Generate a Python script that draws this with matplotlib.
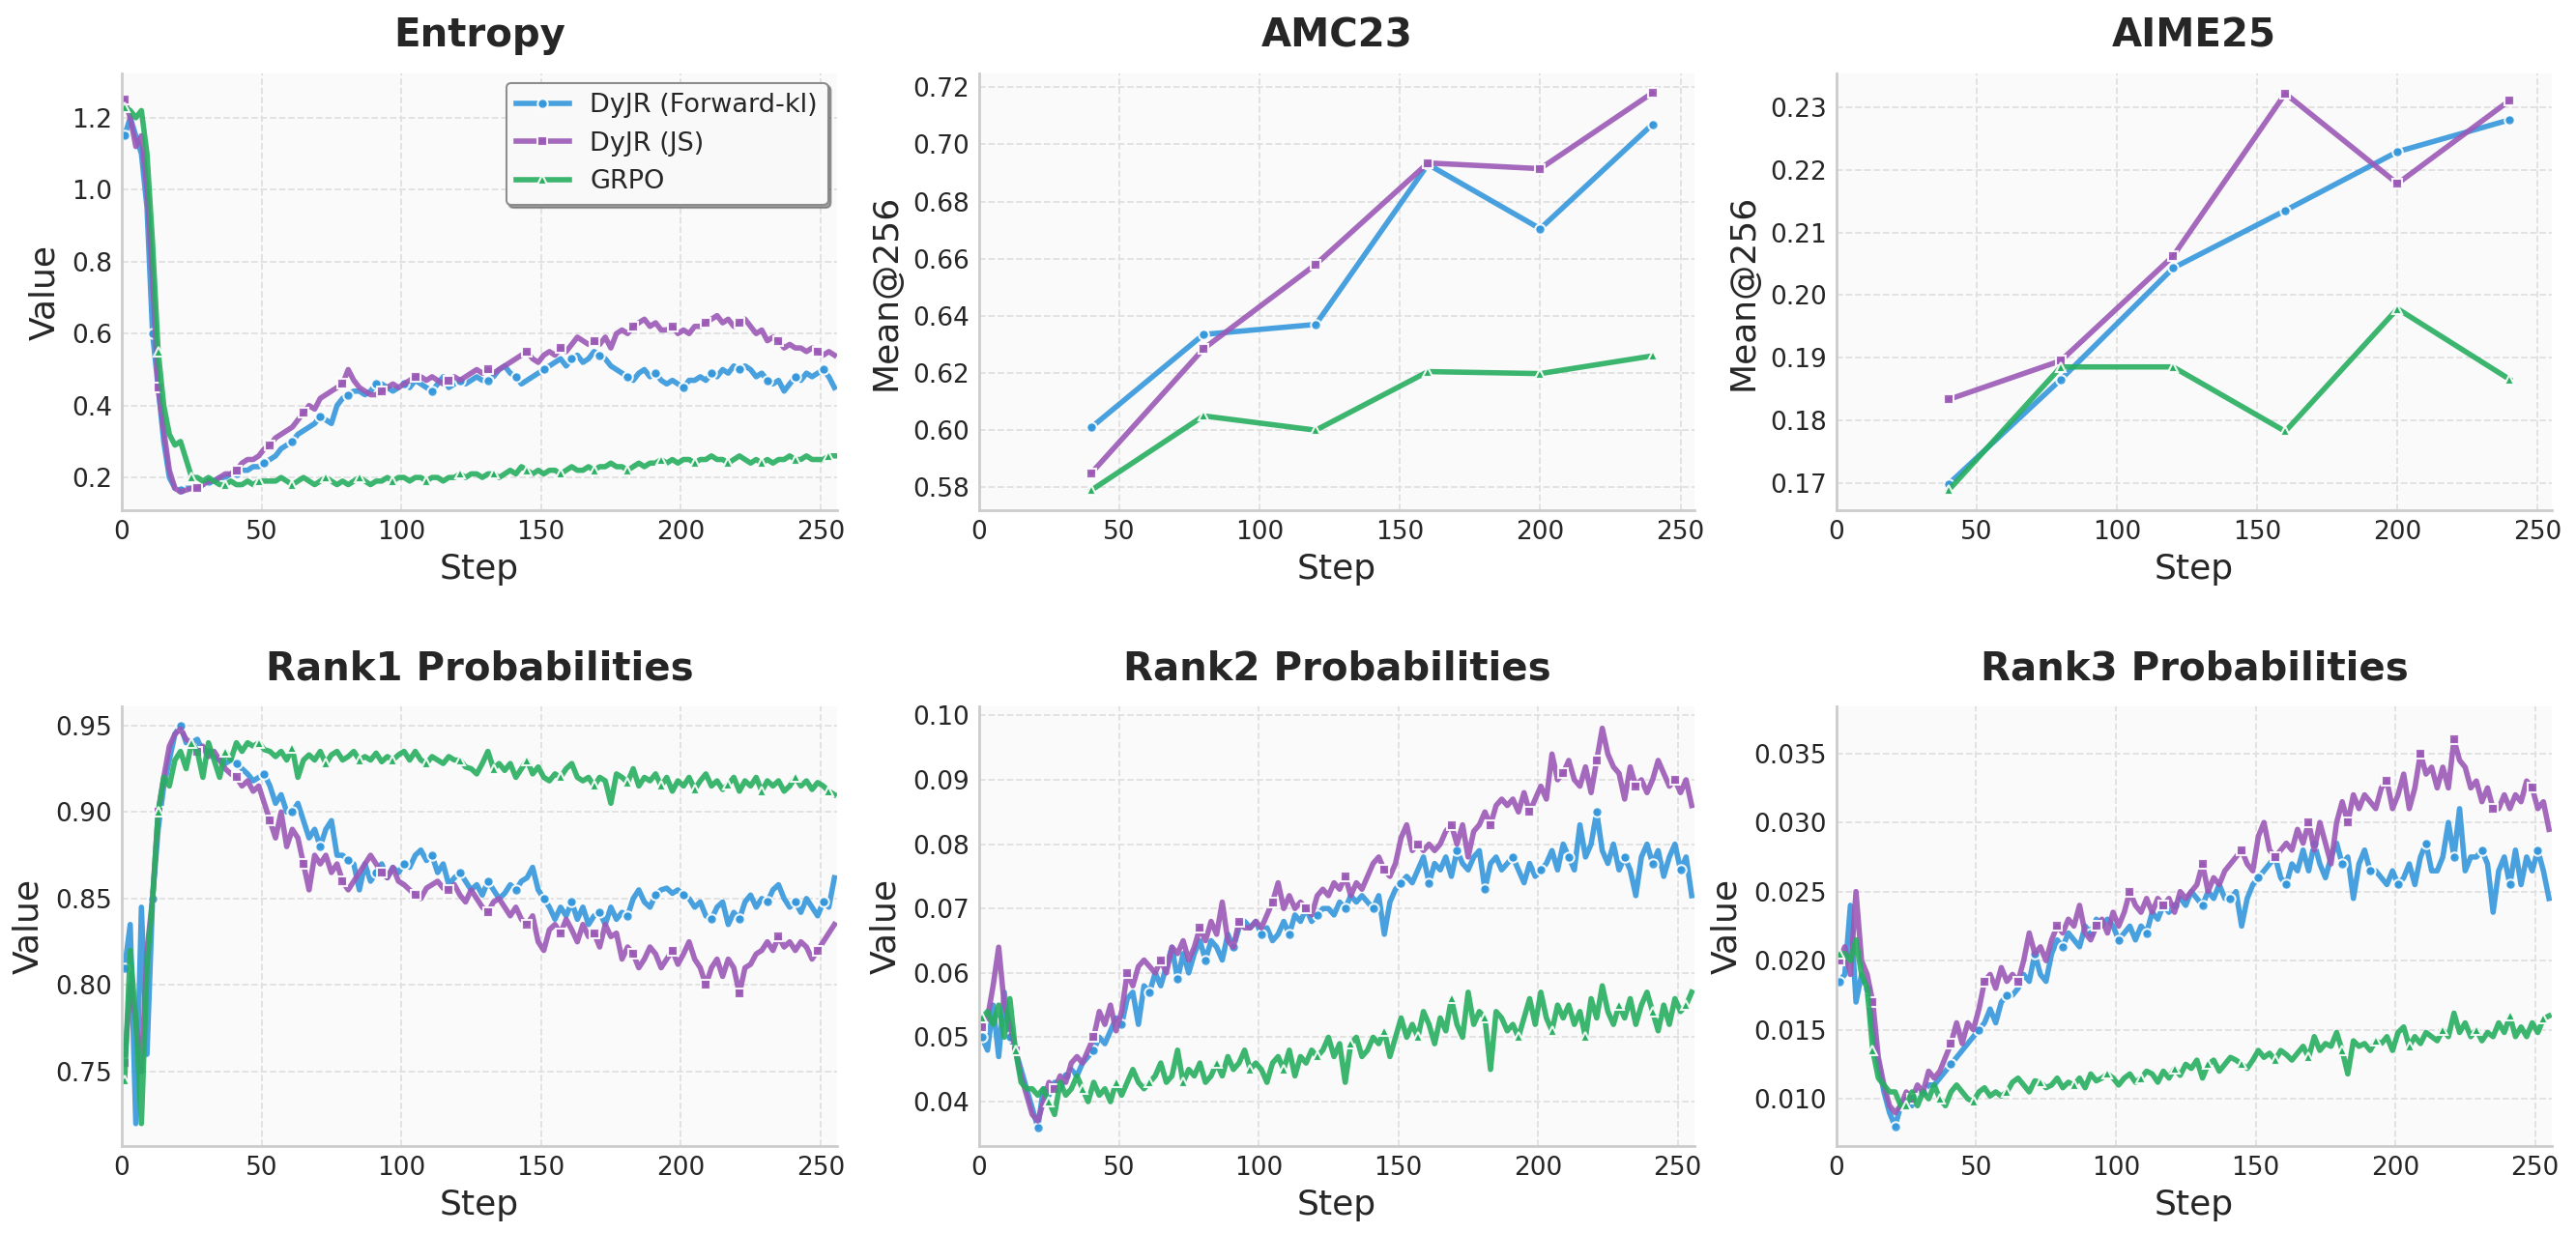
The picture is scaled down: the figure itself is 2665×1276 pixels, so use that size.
import numpy as np
import matplotlib
matplotlib.use('Agg')
import matplotlib.pyplot as plt

# training curves, logged every 2 steps
steps = np.arange(1, 256, 2)
eval_steps = [40, 80, 120, 160, 200, 240]
labels = ['DyJR (Forward-kl)', 'DyJR (JS)', 'GRPO']

entropy_fkl = [1.15, 1.2, 1.15, 1.1, 0.95, 0.6, 0.45, 0.3, 0.2, 0.17,
               0.165, 0.17, 0.17, 0.17, 0.18, 0.19, 0.19, 0.2, 0.2, 0.21,
               0.21, 0.22, 0.22, 0.23, 0.23, 0.24, 0.25, 0.26, 0.28, 0.29,
               0.3, 0.32, 0.33, 0.34, 0.35, 0.37, 0.36, 0.35, 0.4, 0.42,
               0.43, 0.44, 0.44, 0.43, 0.44, 0.46, 0.46, 0.45, 0.44, 0.45,
               0.46, 0.45, 0.47, 0.46, 0.45, 0.44, 0.46, 0.48, 0.45, 0.46,
               0.47, 0.46, 0.47, 0.48, 0.47, 0.47, 0.48, 0.5, 0.51, 0.49,
               0.48, 0.46, 0.47, 0.48, 0.49, 0.5, 0.51, 0.52, 0.53, 0.51,
               0.53, 0.54, 0.52, 0.53, 0.55, 0.54, 0.53, 0.51, 0.5, 0.49,
               0.48, 0.47, 0.49, 0.5, 0.48, 0.49, 0.47, 0.46, 0.47, 0.46,
               0.45, 0.47, 0.47, 0.48, 0.47, 0.49, 0.48, 0.5, 0.49, 0.51,
               0.5, 0.51, 0.5, 0.48, 0.49, 0.47, 0.46, 0.47, 0.44, 0.46,
               0.48, 0.47, 0.49, 0.48, 0.49, 0.5, 0.48, 0.45]
entropy_js = [1.25, 1.2, 1.12, 1.15, 1.0, 0.75, 0.45, 0.33, 0.22, 0.17,
              0.16, 0.165, 0.17, 0.17, 0.18, 0.19, 0.19, 0.2, 0.21, 0.21,
              0.22, 0.24, 0.25, 0.25, 0.26, 0.28, 0.29, 0.31, 0.32, 0.33,
              0.34, 0.36, 0.38, 0.4, 0.39, 0.42, 0.43, 0.44, 0.45, 0.46,
              0.5, 0.47, 0.45, 0.44, 0.43, 0.43, 0.44, 0.45, 0.46, 0.45,
              0.46, 0.47, 0.48, 0.48, 0.47, 0.48, 0.47, 0.46, 0.47, 0.48,
              0.47, 0.48, 0.49, 0.5, 0.49, 0.5, 0.49, 0.5, 0.51, 0.52,
              0.53, 0.54, 0.55, 0.53, 0.52, 0.54, 0.55, 0.54, 0.56, 0.55,
              0.57, 0.59, 0.58, 0.57, 0.58, 0.57, 0.59, 0.56, 0.6, 0.61,
              0.6, 0.62, 0.63, 0.64, 0.62, 0.63, 0.61, 0.61, 0.62, 0.6,
              0.61, 0.6, 0.62, 0.62, 0.63, 0.64, 0.65, 0.63, 0.64, 0.62,
              0.63, 0.64, 0.62, 0.6, 0.61, 0.58, 0.59, 0.58, 0.56, 0.57,
              0.56, 0.56, 0.55, 0.56, 0.55, 0.54, 0.55, 0.54]
entropy_grpo = [1.23, 1.22, 1.2, 1.22, 1.1, 0.85, 0.55, 0.4, 0.32, 0.29,
                0.3, 0.25, 0.2, 0.2, 0.19, 0.2, 0.19, 0.18, 0.18, 0.19,
                0.18, 0.18, 0.19, 0.18, 0.19, 0.19, 0.19, 0.19, 0.2, 0.19,
                0.18, 0.19, 0.2, 0.19, 0.18, 0.19, 0.2, 0.19, 0.18, 0.19,
                0.18, 0.19, 0.2, 0.19, 0.18, 0.19, 0.19, 0.2, 0.19, 0.2,
                0.2, 0.19, 0.2, 0.2, 0.19, 0.2, 0.2, 0.19, 0.2, 0.2,
                0.21, 0.2, 0.21, 0.21, 0.2, 0.21, 0.21, 0.2, 0.21, 0.22,
                0.21, 0.23, 0.22, 0.21, 0.22, 0.21, 0.22, 0.22, 0.21, 0.22,
                0.23, 0.22, 0.22, 0.23, 0.22, 0.23, 0.23, 0.24, 0.23, 0.23,
                0.22, 0.23, 0.24, 0.23, 0.24, 0.24, 0.25, 0.24, 0.25, 0.24,
                0.25, 0.25, 0.24, 0.25, 0.25, 0.26, 0.25, 0.25, 0.24, 0.25,
                0.26, 0.25, 0.24, 0.25, 0.24, 0.25, 0.24, 0.25, 0.25, 0.26,
                0.25, 0.25, 0.26, 0.25, 0.25, 0.25, 0.26, 0.26]

amc_fkl = [0.601, 0.6335, 0.637, 0.693, 0.6705, 0.707]
amc_js = [0.585, 0.6285, 0.658, 0.6935, 0.6915, 0.718]
amc_grpo = [0.579, 0.605, 0.600, 0.6205, 0.6198, 0.626]

aime_fkl = [0.1698, 0.1865, 0.2043, 0.2135, 0.2229, 0.228]
aime_js = [0.1833, 0.1895, 0.2062, 0.2322, 0.2178, 0.2311]
aime_grpo = [0.1688, 0.1885, 0.1885, 0.1782, 0.1978, 0.1865]

rank1_fkl = [0.81, 0.835, 0.72, 0.845, 0.76, 0.85, 0.89, 0.915, 0.93, 0.945,
             0.95, 0.94, 0.94, 0.942, 0.935, 0.935, 0.932, 0.93, 0.928, 0.93,
             0.928, 0.925, 0.922, 0.918, 0.92, 0.922, 0.915, 0.905, 0.91, 0.9,
             0.9, 0.905, 0.895, 0.885, 0.89, 0.88, 0.89, 0.895, 0.875, 0.875,
             0.872, 0.87, 0.855, 0.87, 0.86, 0.865, 0.87, 0.862, 0.868, 0.865,
             0.87, 0.868, 0.875, 0.878, 0.872, 0.875, 0.865, 0.87, 0.858, 0.862,
             0.865, 0.86, 0.855, 0.858, 0.852, 0.86, 0.855, 0.85, 0.853, 0.858,
             0.855, 0.86, 0.862, 0.868, 0.855, 0.85, 0.845, 0.838, 0.845, 0.84,
             0.848, 0.838, 0.845, 0.835, 0.84, 0.842, 0.835, 0.845, 0.838, 0.842,
             0.84, 0.85, 0.855, 0.848, 0.845, 0.852, 0.855, 0.856, 0.853, 0.855,
             0.852, 0.85, 0.845, 0.848, 0.84, 0.838, 0.845, 0.848, 0.835, 0.842,
             0.838, 0.848, 0.852, 0.845, 0.85, 0.848, 0.855, 0.858, 0.85, 0.845,
             0.848, 0.842, 0.85, 0.845, 0.84, 0.848, 0.845, 0.862]
rank1_js = [0.755, 0.8, 0.78, 0.75, 0.82, 0.85, 0.9, 0.92, 0.938, 0.945,
            0.948, 0.942, 0.94, 0.935, 0.938, 0.932, 0.935, 0.93, 0.925, 0.922,
            0.92, 0.915, 0.918, 0.912, 0.915, 0.905, 0.895, 0.885, 0.9, 0.88,
            0.89, 0.885, 0.87, 0.855, 0.875, 0.87, 0.875, 0.865, 0.87, 0.86,
            0.855, 0.86, 0.865, 0.87, 0.875, 0.87, 0.865, 0.862, 0.868, 0.86,
            0.858, 0.855, 0.852, 0.85, 0.856, 0.858, 0.86, 0.856, 0.855, 0.858,
            0.852, 0.848, 0.855, 0.85, 0.845, 0.842, 0.848, 0.85, 0.845, 0.84,
            0.845, 0.838, 0.835, 0.84, 0.825, 0.82, 0.832, 0.835, 0.83, 0.838,
            0.832, 0.825, 0.835, 0.828, 0.83, 0.822, 0.835, 0.828, 0.83, 0.815,
            0.822, 0.818, 0.81, 0.815, 0.822, 0.818, 0.81, 0.815, 0.82, 0.812,
            0.818, 0.825, 0.815, 0.81, 0.8, 0.81, 0.815, 0.805, 0.815, 0.81,
            0.795, 0.81, 0.812, 0.818, 0.82, 0.825, 0.82, 0.828, 0.822, 0.825,
            0.82, 0.825, 0.822, 0.815, 0.82, 0.825, 0.83, 0.835]
rank1_grpo = [0.745, 0.82, 0.78, 0.72, 0.81, 0.85, 0.9, 0.92, 0.915, 0.93,
              0.935, 0.925, 0.94, 0.935, 0.92, 0.94, 0.93, 0.92, 0.935, 0.93,
              0.94, 0.935, 0.94, 0.938, 0.94, 0.936, 0.935, 0.932, 0.935, 0.93,
              0.937, 0.92, 0.93, 0.933, 0.93, 0.935, 0.928, 0.933, 0.935, 0.93,
              0.932, 0.935, 0.93, 0.932, 0.93, 0.934, 0.929, 0.932, 0.93, 0.933,
              0.935, 0.93, 0.935, 0.93, 0.928, 0.932, 0.93, 0.928, 0.932, 0.93,
              0.93, 0.926, 0.925, 0.922, 0.928, 0.935, 0.925, 0.928, 0.924, 0.928,
              0.92, 0.925, 0.93, 0.922, 0.926, 0.92, 0.918, 0.922, 0.92, 0.925,
              0.928, 0.92, 0.918, 0.92, 0.915, 0.92, 0.918, 0.905, 0.922, 0.92,
              0.917, 0.925, 0.915, 0.92, 0.918, 0.922, 0.915, 0.92, 0.912, 0.918,
              0.915, 0.92, 0.913, 0.918, 0.922, 0.915, 0.918, 0.913, 0.916, 0.92,
              0.912, 0.918, 0.915, 0.92, 0.912, 0.918, 0.915, 0.918, 0.912, 0.915,
              0.92, 0.915, 0.918, 0.913, 0.917, 0.915, 0.912, 0.91]

rank2_fkl = [0.05, 0.048, 0.055, 0.047, 0.057, 0.05, 0.048, 0.045, 0.042, 0.039,
             0.036, 0.042, 0.041, 0.043, 0.042, 0.044, 0.045, 0.044, 0.046, 0.047,
             0.048, 0.05, 0.049, 0.051, 0.053, 0.052, 0.056, 0.057, 0.052, 0.058,
             0.057, 0.06, 0.058, 0.061, 0.064, 0.059, 0.063, 0.06, 0.063, 0.065,
             0.062, 0.065, 0.064, 0.062, 0.066, 0.064, 0.067, 0.068, 0.067, 0.068,
             0.066, 0.067, 0.065, 0.066, 0.068, 0.066, 0.069, 0.068, 0.07, 0.068,
             0.069, 0.07, 0.07, 0.069, 0.071, 0.07, 0.072, 0.071, 0.072, 0.071,
             0.07, 0.072, 0.066, 0.071, 0.073, 0.074, 0.075, 0.074, 0.076, 0.078,
             0.074, 0.077, 0.076, 0.078, 0.075, 0.079, 0.077, 0.076, 0.078, 0.079,
             0.073, 0.077, 0.078, 0.076, 0.077, 0.078, 0.076, 0.074, 0.077, 0.075,
             0.076, 0.077, 0.079, 0.076, 0.08, 0.078, 0.076, 0.083, 0.078, 0.08,
             0.085, 0.079, 0.077, 0.08, 0.076, 0.078, 0.076, 0.072, 0.078, 0.08,
             0.077, 0.079, 0.075, 0.078, 0.08, 0.076, 0.078, 0.072]
rank2_js = [0.0515, 0.053, 0.058, 0.064, 0.055, 0.052, 0.048, 0.044, 0.041, 0.038,
            0.037, 0.04, 0.043, 0.042, 0.044, 0.043, 0.046, 0.047, 0.046, 0.048,
            0.05, 0.054, 0.052, 0.055, 0.051, 0.054, 0.06, 0.058, 0.061, 0.062,
            0.061, 0.06, 0.062, 0.06, 0.064, 0.063, 0.065, 0.062, 0.064, 0.067,
            0.065, 0.068, 0.066, 0.071, 0.065, 0.064, 0.068, 0.067, 0.067, 0.068,
            0.067, 0.069, 0.071, 0.074, 0.07, 0.072, 0.07, 0.071, 0.07, 0.069,
            0.072, 0.073, 0.072, 0.074, 0.073, 0.075, 0.072, 0.074, 0.073, 0.075,
            0.077, 0.078, 0.076, 0.075, 0.077, 0.081, 0.083, 0.079, 0.08, 0.079,
            0.08, 0.079, 0.08, 0.082, 0.083, 0.08, 0.083, 0.078, 0.082, 0.083,
            0.085, 0.083, 0.086, 0.087, 0.086, 0.087, 0.085, 0.088, 0.085, 0.087,
            0.089, 0.087, 0.094, 0.09, 0.091, 0.093, 0.09, 0.089, 0.092, 0.088,
            0.093, 0.098, 0.094, 0.092, 0.091, 0.087, 0.092, 0.089, 0.09, 0.088,
            0.09, 0.093, 0.091, 0.089, 0.09, 0.088, 0.09, 0.086]
rank2_grpo = [0.053, 0.054, 0.052, 0.055, 0.05, 0.056, 0.048, 0.043, 0.042, 0.042,
              0.041, 0.042, 0.04, 0.038, 0.043, 0.041, 0.042, 0.044, 0.042, 0.04,
              0.043, 0.041, 0.042, 0.04, 0.043, 0.041, 0.043, 0.045, 0.043, 0.042,
              0.043, 0.044, 0.046, 0.043, 0.044, 0.048, 0.043, 0.045, 0.044, 0.046,
              0.043, 0.044, 0.046, 0.044, 0.047, 0.045, 0.046, 0.048, 0.045, 0.046,
              0.045, 0.043, 0.046, 0.047, 0.045, 0.048, 0.044, 0.047, 0.046, 0.048,
              0.047, 0.048, 0.05, 0.047, 0.049, 0.043, 0.049, 0.05, 0.047, 0.048,
              0.05, 0.049, 0.051, 0.047, 0.05, 0.053, 0.05, 0.052, 0.05, 0.054,
              0.052, 0.049, 0.053, 0.051, 0.056, 0.052, 0.05, 0.057, 0.052, 0.054,
              0.053, 0.045, 0.054, 0.053, 0.051, 0.052, 0.05, 0.053, 0.056, 0.052,
              0.057, 0.053, 0.051, 0.055, 0.053, 0.055, 0.052, 0.054, 0.05, 0.056,
              0.053, 0.058, 0.054, 0.052, 0.055, 0.053, 0.056, 0.052, 0.055, 0.057,
              0.054, 0.051, 0.055, 0.052, 0.056, 0.054, 0.055, 0.057]

rank3_fkl = [0.0185, 0.019, 0.024, 0.017, 0.019, 0.018, 0.015, 0.0125, 0.0105, 0.009,
             0.008, 0.0095, 0.01, 0.0095, 0.0105, 0.0105, 0.011, 0.011, 0.0115, 0.012,
             0.0125, 0.013, 0.0135, 0.014, 0.0145, 0.015, 0.0155, 0.0165, 0.0155, 0.017,
             0.0175, 0.0175, 0.018, 0.019, 0.0185, 0.0205, 0.019, 0.0185, 0.0205, 0.0215,
             0.021, 0.022, 0.0215, 0.021, 0.0225, 0.022, 0.023, 0.0225, 0.023, 0.0225,
             0.0215, 0.022, 0.0225, 0.0215, 0.0225, 0.022, 0.0235, 0.023, 0.024, 0.0235,
             0.024, 0.0245, 0.024, 0.025, 0.0245, 0.024, 0.025, 0.0245, 0.0255, 0.0245,
             0.0245, 0.025, 0.0225, 0.0245, 0.0255, 0.026, 0.0265, 0.027, 0.0275, 0.026,
             0.0255, 0.027, 0.0265, 0.028, 0.0265, 0.0285, 0.027, 0.026, 0.0275, 0.0285,
             0.027, 0.0275, 0.0245, 0.027, 0.028, 0.0265, 0.0265, 0.026, 0.0255, 0.0265,
             0.0255, 0.026, 0.027, 0.0255, 0.0275, 0.0285, 0.0265, 0.0265, 0.0275, 0.03,
             0.0275, 0.031, 0.0265, 0.0275, 0.0275, 0.028, 0.027, 0.0235, 0.0265, 0.0275,
             0.0255, 0.028, 0.0255, 0.0275, 0.0265, 0.028, 0.0265, 0.0245]
rank3_js = [0.02, 0.021, 0.019, 0.025, 0.02, 0.019, 0.017, 0.013, 0.011, 0.0095,
            0.009, 0.0095, 0.0105, 0.01, 0.011, 0.0105, 0.012, 0.0115, 0.012, 0.013,
            0.014, 0.0155, 0.014, 0.0155, 0.015, 0.0165, 0.0185, 0.019, 0.018, 0.0195,
            0.0185, 0.019, 0.0185, 0.02, 0.022, 0.0205, 0.021, 0.02, 0.0215, 0.0225,
            0.022, 0.023, 0.0225, 0.024, 0.022, 0.0215, 0.0225, 0.023, 0.022, 0.0235,
            0.0225, 0.0235, 0.025, 0.024, 0.0235, 0.0245, 0.0235, 0.0245, 0.024, 0.0245,
            0.0235, 0.025, 0.0245, 0.025, 0.0255, 0.027, 0.025, 0.026, 0.0255, 0.0265,
            0.027, 0.0275, 0.028, 0.027, 0.0265, 0.029, 0.03, 0.028, 0.0275, 0.028,
            0.0285, 0.028, 0.0295, 0.0285, 0.03, 0.028, 0.03, 0.0285, 0.027, 0.03,
            0.0315, 0.03, 0.032, 0.031, 0.032, 0.0315, 0.031, 0.0325, 0.033, 0.031,
            0.032, 0.0335, 0.031, 0.0325, 0.035, 0.0335, 0.034, 0.0325, 0.034, 0.0325,
            0.036, 0.0345, 0.034, 0.0325, 0.033, 0.0315, 0.0325, 0.031, 0.031, 0.032,
            0.031, 0.032, 0.0315, 0.033, 0.0325, 0.031, 0.0315, 0.0295]
rank3_grpo = [0.0205, 0.0205, 0.02, 0.0215, 0.019, 0.018, 0.0135, 0.0115, 0.011, 0.0105,
              0.0105, 0.0095, 0.0095, 0.0105, 0.0095, 0.0105, 0.01, 0.011, 0.01, 0.0095,
              0.0105, 0.011, 0.0105, 0.01, 0.0098, 0.0105, 0.0108, 0.0102, 0.0105, 0.0102,
              0.0105, 0.0112, 0.0115, 0.011, 0.0105, 0.0113, 0.0112, 0.0108, 0.011, 0.0115,
              0.0108, 0.0112, 0.011, 0.0115, 0.0108, 0.0118, 0.0113, 0.0115, 0.0118, 0.0115,
              0.011, 0.0115, 0.0118, 0.0112, 0.0115, 0.012, 0.0118, 0.0112, 0.012, 0.0115,
              0.0122, 0.0117, 0.0125, 0.0122, 0.0128, 0.0115, 0.0125, 0.0128, 0.012, 0.0125,
              0.013, 0.0128, 0.0125, 0.0122, 0.0128, 0.0135, 0.013, 0.0133, 0.0128, 0.0135,
              0.0132, 0.0128, 0.0133, 0.0138, 0.013, 0.0145, 0.0135, 0.014, 0.0138, 0.0148,
              0.0135, 0.0118, 0.0142, 0.0138, 0.014, 0.0135, 0.0142, 0.014, 0.0145, 0.0135,
              0.0148, 0.0152, 0.0138, 0.0145, 0.014, 0.0148, 0.0145, 0.0142, 0.015, 0.0145,
              0.0162, 0.0148, 0.0155, 0.0145, 0.015, 0.0142, 0.0148, 0.0145, 0.0155, 0.0148,
              0.016, 0.0145, 0.0152, 0.0145, 0.0155, 0.0148, 0.0158, 0.016]

colors = ['#3498db', '#9b59b6', '#27ae60']
markers = ['o', 's', '^']
# marker spacing (in logged points) for each method
mark_idx = [np.arange(0, 128, 5),
            np.round(np.arange(0, 128, 6.5)).astype(int),
            np.arange(0, 128, 6)]

plt.rcParams['font.family'] = 'DejaVu Sans'
plt.rcParams['text.color'] = '#262626'
plt.rcParams['axes.labelcolor'] = '#262626'
plt.rcParams['xtick.color'] = '#262626'
plt.rcParams['ytick.color'] = '#262626'

fig = plt.figure(figsize=(26.65, 12.76), dpi=100)

lefts = [0.0473, 0.3801, 0.7129]
w = 0.2777
top_b, top_h = 0.5862, 0.3542
bot_b, bot_h = 0.0705, 0.3566

panels = [
    ('Entropy', 'Value', steps, [entropy_fkl, entropy_js, entropy_grpo], (0.109, 1.323), np.arange(0.2, 1.21, 0.2)),
    ('AMC23', 'Mean@256', eval_steps, [amc_fkl, amc_js, amc_grpo], (0.572, 0.7248), np.arange(0.58, 0.721, 0.02)),
    ('AIME25', 'Mean@256', eval_steps, [aime_fkl, aime_js, aime_grpo], (0.1656, 0.2354), np.arange(0.17, 0.231, 0.01)),
    ('Rank1 Probabilities', 'Value', steps, [rank1_fkl, rank1_js, rank1_grpo], (0.707, 0.961), np.arange(0.75, 0.951, 0.05)),
    ('Rank2 Probabilities', 'Value', steps, [rank2_fkl, rank2_js, rank2_grpo], (0.0331, 0.1014), np.arange(0.04, 0.1001, 0.01)),
    ('Rank3 Probabilities', 'Value', steps, [rank3_fkl, rank3_js, rank3_grpo], (0.00658, 0.0384), np.arange(0.010, 0.0351, 0.005)),
]

for k, (title, ylabel, xs, series, ylim, yticks) in enumerate(panels):
    row, col = divmod(k, 3)
    if row == 0:
        ax = fig.add_axes([lefts[col], top_b, w, top_h])
    else:
        ax = fig.add_axes([lefts[col], bot_b, w, bot_h])
    ax.set_facecolor('#fafafa')

    is_eval = len(xs) == len(eval_steps)
    for i in range(3):
        me = None if is_eval else list(mark_idx[i])
        ax.plot(xs, series[i], color=colors[i], lw=4, alpha=0.9,
                marker=markers[i], markersize=7.5, markevery=me,
                markeredgecolor='white', markeredgewidth=1.5, label=labels[i])

    ax.set_xlim(0, 255 if is_eval else 256)
    ax.set_ylim(*ylim)
    ax.set_xticks([0, 50, 100, 150, 200, 250])
    ax.set_yticks(yticks)
    ax.tick_params(length=0, labelsize=19, pad=7)
    ax.grid(True, ls='--', color='#e0e0e0', lw=1.3)
    ax.set_axisbelow(True)
    for s in ['top', 'right']:
        ax.spines[s].set_visible(False)
    for s in ['left', 'bottom']:
        ax.spines[s].set_color('#cccccc')
        ax.spines[s].set_linewidth(2)

    ax.set_title(title, fontsize=29, fontweight='bold', pad=20)
    ax.set_xlabel('Step', fontsize=26, labelpad=6)
    ax.set_ylabel(ylabel, fontsize=26, labelpad=8)

    if k == 0:
        leg = ax.legend(loc='upper right', fontsize=19.5, frameon=True, shadow=True,
                        fancybox=True, borderaxespad=0.35, framealpha=0.95)
        leg.get_frame().set_edgecolor('#888888')
        leg.get_frame().set_linewidth(1.5)

plt.savefig('out.png', dpi=100, facecolor='white')
